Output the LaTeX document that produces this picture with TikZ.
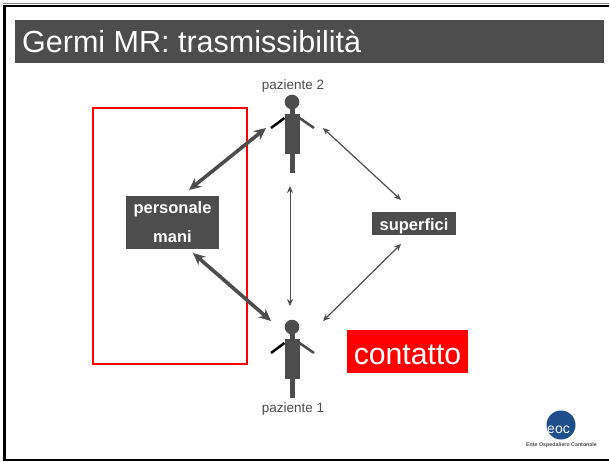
\documentclass[tikz,border=0pt]{standalone}
\usepackage{fontspec}
\setmainfont{Liberation Sans}
\usetikzlibrary{arrows.meta}
\definecolor{scuro}{HTML}{4D4D4D}
\definecolor{eocblu}{HTML}{1F4E8C}
\tikzset{
  box/.style={fill=scuro,text=white,font=\bfseries\fontsize{16.5}{29}\selectfont,align=center,inner sep=0pt},
  lab/.style={text=scuro,font=\fontsize{13.5}{15}\selectfont,inner sep=0pt},
  big/.style={font=\fontsize{30.2}{34}\selectfont,inner sep=0pt},
  thin arrow/.style={{Stealth[length=7pt,width=6pt]}-{Stealth[length=7pt,width=6pt]},color=scuro,line width=1.2pt},
  thick arrow/.style={{Stealth[length=12pt,width=11pt]}-{Stealth[length=12pt,width=11pt]},color=scuro,line width=3.6pt}
}
\newcommand{\paziente}[3]{%
  \fill[scuro] (#2,#3) circle (7.3);
  \fill[scuro] (#2-7.5,#3-12) rectangle (#2+7.5,#3-52);
  \fill[scuro] (#2-2.5,#3-5) rectangle (#2+2.5,#3-71);
  \draw[black,line width=2.5pt] (#2-7.5,#3-16) -- (#2-21,#3-26);
  \draw[scuro,line width=2.5pt] (#2+7.5,#3-16) -- (#2+22,#3-26);
}
\begin{document}
\begin{tikzpicture}[x=1pt,y=1pt,>=stealth]
\useasboundingbox (0,0) rectangle (609,461);
\fill[white] (0,0) rectangle (609,461);
% cornice
\draw[black!45,line width=1pt] (3,457) -- (609,457);
\draw[black,line width=2.5pt] (3,455) -- (609,455);
\draw[black,line width=2.5pt] (4.5,456) -- (4.5,0);
\draw[black,line width=1.4pt] (3,1) -- (609,1);
% titolo
\node[fill=scuro,text=white,big,font=\fontsize{30.5}{34}\selectfont,minimum width=589,minimum height=43,anchor=west] (titolo) at (15,419.5) {\hspace*{7pt}\raisebox{-11pt}[0pt][0pt]{\makebox[582pt][l]{Germi MR: trasmissibilità}}};
% rettangolo rosso
\draw[red,line width=2pt] (92.5,97.5) rectangle (246.5,352.5);
% persone
\paziente{p2}{292}{359}
\paziente{p1}{292}{134}
\node[lab] (lab2) at (293,374.5) {paziente 2};
\node[lab] (lab1) at (293,51.5) {paziente 1};
% riquadri
\node[box,minimum width=93,minimum height=53] (personale) at (172.5,238.5) {personale\\mani};
\node[box,minimum width=84,minimum height=23] (superfici) at (414,237.5) {\raisebox{-7pt}[0pt][0pt]{superfici}};
\node[fill=red,text=white,big,minimum width=121,minimum height=43] (contatto) at (407.5,109.5) {\raisebox{-12.5pt}[0pt][0pt]{contatto}};
% frecce
\coordinate (a1) at (189,271);
\coordinate (a2) at (266,333);
\coordinate (b1) at (193,208);
\coordinate (b2) at (271,140);
\coordinate (c1) at (290,275);
\coordinate (c2) at (290,155);
\coordinate (d1) at (323,140);
\coordinate (d2) at (401,217);
\coordinate (e1) at (323,333);
\coordinate (e2) at (401,261);
\draw[thick arrow] (a1) -- (a2);
\draw[thick arrow] (b1) -- (b2);
\draw[thin arrow,line width=.8pt] (c1) -- (c2);
\draw[thin arrow] (d1) -- (d2);
\draw[thin arrow] (e1) -- (e2);
% logo
\fill[eocblu] (561,36) circle (14.5);
\node[text=white,font=\fontsize{14}{14}\selectfont,inner sep=0pt] (eoc) at (558.5,31.5) {eoc};
\node[text=black!70,font=\bfseries\fontsize{5.3}{6}\selectfont,inner sep=0pt] (ente) at (561.5,16) {Ente Ospedaliero Cantonale};
\end{tikzpicture}
\end{document}
